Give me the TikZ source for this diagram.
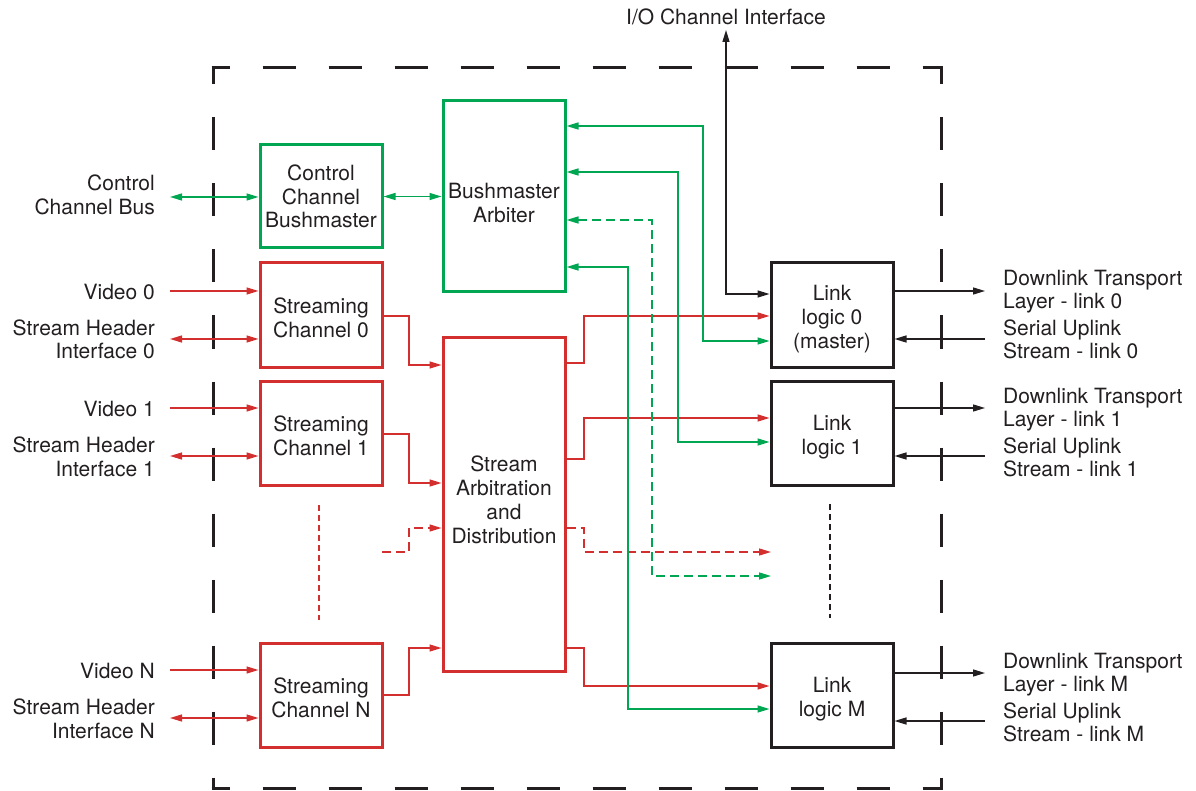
\documentclass[tikz,border=0pt]{standalone}
\usepackage{fontspec}
\setmainfont{TeX Gyre Heros}
\usetikzlibrary{arrows.meta}
\definecolor{cred}{RGB}{211,47,47}
\definecolor{cgreen}{RGB}{0,166,81}
\definecolor{cblk}{RGB}{35,31,32}
\newcommand\dfs{\fontsize{21}{23.5}\selectfont}
\newcommand\dfb{\fontsize{21}{24}\selectfont}
\tikzset{
  box/.style={draw, line width=3pt, minimum width=122pt, inner sep=0pt, align=center, font=\dfs, text=cblk},
  rbox/.style={box, draw=cred},
  gbox/.style={box, draw=cgreen},
  kbox/.style={box, draw=cblk},
  txt/.style={inner sep=0pt, align=center, font=\dfs, text=cblk},
  btxt/.style={inner sep=0pt, align=center, font=\dfb, text=cblk},
  lbll/.style={inner sep=0pt, align=right, anchor=east, font=\dfs, text=cblk},
  lblr/.style={inner sep=0pt, align=left, anchor=west, font=\dfs, text=cblk},
  conn/.style={line width=1.4pt, >={Triangle[length=12pt,width=7pt]}},
  rconn/.style={conn, draw=cred},
  gconn/.style={conn, draw=cgreen},
  kconn/.style={conn, draw=cblk},
  dsh/.style={dash pattern=on 9pt off 5pt},
  vdots/.style={line width=1.2pt, dash pattern=on 6pt off 4pt},
  frame/.style={draw=cblk, line width=3pt, dash pattern=on 33pt off 33pt, dash phase=15pt}
}
\begin{document}
\begin{tikzpicture}[x=1pt,y=-1pt]
\useasboundingbox (0,0) rectangle (1196,791);

% frame
\draw[frame] (211.5,68) -- (942.5,68);
\draw[frame] (211.5,788) -- (942.5,788);
\draw[frame] (213,66.5) -- (213,789.5);
\draw[frame] (941,66.5) -- (941,789.5);

% boxes
\node[gbox, minimum height=103pt] (ccb) at (321,196.5) {Control\\Channel\\Bushmaster};
\node[gbox, minimum height=191pt] (ba) at (504,196.5) {};
\node[txt] (batxt) at (504,203) {Bushmaster\\Arbiter};
\node[rbox, minimum height=104pt] (sc0) at (321,315) {};
\node[btxt] (sc0txt) at (321,317.5) {Streaming\\Channel 0};
\node[rbox, minimum height=104pt] (sc1) at (321,433) {};
\node[btxt] (sc1txt) at (321,435.5) {Streaming\\Channel 1};
\node[rbox, minimum height=104pt] (scN) at (321,695) {};
\node[btxt] (scNtxt) at (321,697.5) {Streaming\\Channel N};
\node[rbox, minimum height=333pt] (sad) at (504,504.5) {};
\node[btxt] (sadtxt) at (504,499.5) {Stream\\Arbitration\\and\\Distribution};
\node[kbox, minimum height=104pt] (ll0) at (832,315) {};
\node[btxt] (ll0txt) at (832,319.5) {Link\\logic 0\\(master)};
\node[kbox, minimum height=104pt] (ll1) at (832,433) {};
\node[btxt] (ll1txt) at (832,437) {Link\\logic 1};
\node[kbox, minimum height=104pt] (llM) at (832,695) {};
\node[btxt] (llMtxt) at (832,699) {Link\\logic M};

% left labels
\node[lbll] (cbl) at (155,195) {Control\\Channel Bus};
\node[lbll] (v0l) at (155,292) {Video 0};
\node[lbll] (h0l) at (155,339.5) {Stream Header\\Interface 0};
\node[lbll] (v1l) at (155,409) {Video 1};
\node[lbll] (h1l) at (155,457) {Stream Header\\Interface 1};
\node[lbll] (vNl) at (155,671) {Video N};
\node[lbll] (hNl) at (155,719) {Stream Header\\Interface N};

% right labels
\node[lblr] (d0l) at (1003,291.5) {Downlink Transport\\Layer - link 0};
\node[lblr] (u0l) at (1003,339.5) {Serial Uplink\\Stream - link 0};
\node[lblr] (d1l) at (1003,409.5) {Downlink Transport\\Layer - link 1};
\node[lblr] (u1l) at (1003,457.5) {Serial Uplink\\Stream - link 1};
\node[lblr] (dMl) at (1003,674.5) {Downlink Transport\\Layer - link M};
\node[lblr] (uMl) at (1003,722.5) {Serial Uplink\\Stream - link M};
\node[txt] (iol) at (726,17) {I/O Channel Interface};

% free ends
\coordinate (cbs) at (170,197);
\coordinate (v0) at (170,291);
\coordinate (h0) at (170,339);
\coordinate (v1) at (170,408);
\coordinate (h1) at (170,456);
\coordinate (vN) at (170,670);
\coordinate (hN) at (170,718);
\coordinate (d0) at (985,291);
\coordinate (u0) at (985,339);
\coordinate (d1) at (985,408);
\coordinate (u1) at (985,456);
\coordinate (dM) at (985,673);
\coordinate (uM) at (985,721);
\coordinate (io) at (726,30);
\coordinate (rdin) at (382,552);
\coordinate (rdout) at (771,552);
\coordinate (gdout) at (771,576);

% left connectors
\draw[gconn,<->] (cbs) -- (cbs -| ccb.west);
\draw[gconn,<->] (ccb.east) -- (ccb.east -| ba.west);
\draw[rconn,->] (v0) -- (v0 -| sc0.west);
\draw[rconn,<->] (h0) -- (h0 -| sc0.west);
\draw[rconn,->] (v1) -- (v1 -| sc1.west);
\draw[rconn,<->] (h1) -- (h1 -| sc1.west);
\draw[rconn,->] (vN) -- (vN -| scN.west);
\draw[rconn,<->] (hN) -- (hN -| scN.west);

% streaming channels to SAD
\draw[rconn,->] (sc0.east |- 0,316) -| (409,365) -- (sad.west |- 0,365);
\draw[rconn,->] (sc1.east |- 0,434) -| (409,483) -- (sad.west |- 0,483);
\draw[rconn,->,dsh] (rdin) -| (409,528) -- (sad.west |- 0,528);
\draw[rconn,->] (scN.east |- 0,695) -| (409,648) -- (sad.west |- 0,648);

% SAD to link logic
\draw[rconn,->] (sad.east |- 0,363) -| (584,316) -- (ll0.west |- 0,316);
\draw[rconn,->] (sad.east |- 0,459) -| (584,418) -- (ll1.west |- 0,418);
\draw[rconn,->,dsh] (sad.east |- 0,528) -| (584,552) -- (rdout);
\draw[rconn,->] (sad.east |- 0,648) -| (584,686) -- (llM.west |- 0,686);

% link logic to arbiter
\draw[gconn,<->] (ba.east |- 0,126) -| (703,341) -- (ll0.west |- 0,341);
\draw[gconn,<->] (ba.east |- 0,172) -| (678,442) -- (ll1.west |- 0,442);
\draw[gconn,<->,dsh] (ba.east |- 0,220) -| (652,576) -- (gdout);
\draw[gconn,<->] (ba.east |- 0,267) -| (628,709) -- (llM.west |- 0,709);

% I/O channel
\draw[kconn,<->] (ll0.west |- 0,294) -| (io);

% right connectors
\draw[kconn,->] (d0 -| ll0.east) -- (d0);
\draw[kconn,->] (u0) -- (u0 -| ll0.east);
\draw[kconn,->] (d1 -| ll1.east) -- (d1);
\draw[kconn,->] (u1) -- (u1 -| ll1.east);
\draw[kconn,->] (dM -| llM.east) -- (dM);
\draw[kconn,->] (uM) -- (uM -| llM.east);

% continuation marks
\draw[vdots, draw=cred] (319,505) -- (319,620);
\draw[vdots, draw=cblk] (830,504) -- (830,618);
\end{tikzpicture}
\end{document}
